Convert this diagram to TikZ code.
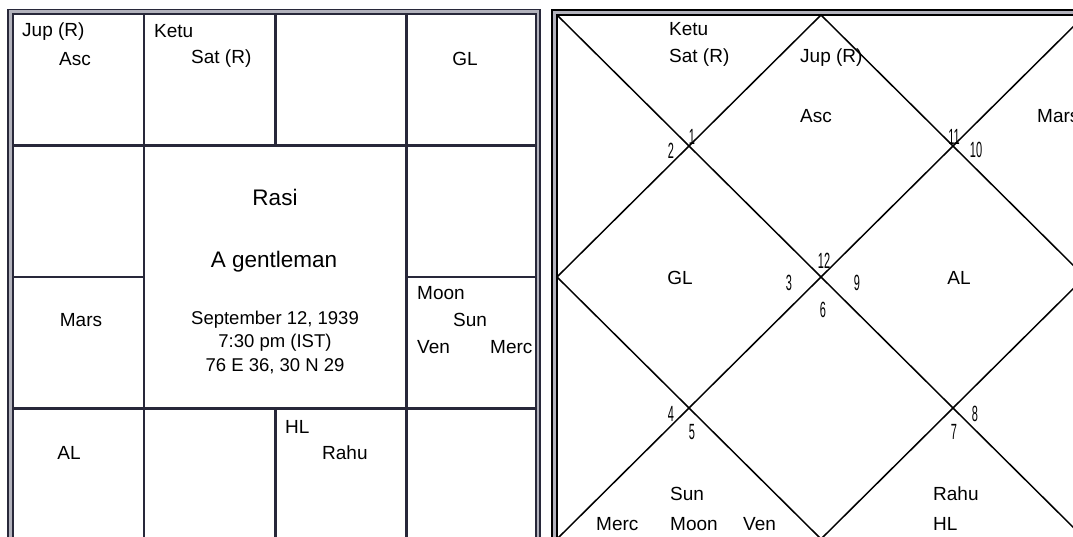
\documentclass[tikz,border=0pt]{standalone}
\usepackage{fontspec}
\setmainfont{Liberation Sans}
\definecolor{gridnavy}{RGB}{40,40,58}
\definecolor{gapgray}{RGB}{178,178,188}
\newcommand{\narrow}[1]{\scalebox{0.5}[1]{#1}}
\tikzset{
  pl/.style={inner sep=0pt, font=\fontsize{19}{22}\selectfont},
  plw/.style={pl, anchor=west},
  title/.style={inner sep=0pt, font=\fontsize{22.5}{25}\selectfont},
  housenum/.style={inner sep=0pt, font=\fontsize{22}{22}\selectfont},
  rasiline/.style={draw=gridnavy, line width=2.6pt},
  bhavaline/.style={draw=black, line width=1.5pt}
}

\begin{document}
\begin{tikzpicture}[x=1pt,y=-1pt]
\useasboundingbox (0,0) rectangle (1073,537);
\clip (0,0) rectangle (1073,537);

\draw[gapgray, line width=4pt] (10.5,11.75) rectangle (538,542);
\draw[gridnavy, line width=1.8pt] (8,9.5) rectangle (540,544);
\draw[gridnavy, line width=1.8pt] (13,14) rectangle (536,540);

\coordinate (h1w) at (13,145.5);
\coordinate (h1e) at (536,145.5);
\coordinate (h2w) at (13,277);
\coordinate (h2a) at (144,277);
\coordinate (h2b) at (406.5,277);
\coordinate (h2e) at (536,277);
\coordinate (h3w) at (13,408.5);
\coordinate (h3e) at (536,408.5);
\coordinate (v1n) at (144,14);
\coordinate (v1s) at (144,540);
\coordinate (v2n) at (275.5,14);
\coordinate (v2a) at (275.5,145.5);
\coordinate (v2b) at (275.5,408.5);
\coordinate (v2s) at (275.5,540);
\coordinate (v3n) at (406.5,14);
\coordinate (v3s) at (406.5,540);
\draw[rasiline] (h1w) -- (h1e) (h3w) -- (h3e) (h2w) -- (h2a) (h2b) -- (h2e)
  (v1n) -- (v1s) (v3n) -- (v3s) (v2n) -- (v2a) (v2b) -- (v2s);

\node[plw] (jupL) at (22,32) {Jup (R)};
\node[plw] (ascL) at (59,59) {Asc};
\node[plw] (ketuL) at (154,31) {Ketu};
\node[plw] (satL) at (191,59) {Sat (R)};
\node[pl] (glL) at (465,59) {GL};
\node[pl] (marsL) at (81,320) {Mars};
\node[title] (rasi) at (275,197) {Rasi};
\node[title] (gent) at (274,262) {A gentleman};
\node[pl, align=center, font=\fontsize{18.5}{23.5}\selectfont] (birth) at (275,342)
  {September 12, 1939\\7:30 pm (IST)\\76 E 36, 30 N 29};
\node[plw] (moonL) at (417,293) {Moon};
\node[plw] (sunL) at (453,320) {Sun};
\node[plw] (venL) at (417,347) {Ven};
\node[plw] (mercL) at (490,347) {Merc};
\node[pl] (alL) at (69,453) {AL};
\node[plw] (hlL) at (285,427) {HL};
\node[plw] (rahuL) at (322,453) {Rahu};

\coordinate (NW) at (557,15);
\coordinate (NE) at (1085,15);
\coordinate (SE) at (1085,539);
\coordinate (SW) at (557,539);
\coordinate (N) at (821,15);
\coordinate (E) at (1085,277);
\coordinate (S) at (821,539);
\coordinate (W) at (557,277);
\draw[gapgray, line width=3pt] (554.5,12.5) rectangle (1087.5,541.5);
\draw[black, line width=1.8pt] (552,10) rectangle (1090,544);
\draw[bhavaline] (NW) rectangle (SE);
\draw[bhavaline] (NW) -- (SE) (NE) -- (SW) (N) -- (E) -- (S) -- (W) -- cycle;

\foreach \p/\x/\y in {1/692/137, 2/671/151, 11/954/137, 10/976/150,
  12/824/261, 3/789/283, 9/857/283, 6/823/310,
  4/671/414, 5/692/432, 8/975/414, 7/954/432}
{\node[housenum] (house\p) at (\x,\y) {\narrow{\p}};}

\node[plw] (ketuR) at (669,29) {Ketu};
\node[plw] (satR) at (669,58) {Sat (R)};
\node[plw] (jupR) at (800,58) {Jup (R)};
\node[plw] (ascR) at (800,116) {Asc};
\node[plw] (marsR) at (1037,116) {Mars};
\node[pl] (glR) at (680,278) {GL};
\node[pl] (alR) at (959,278) {AL};
\node[plw] (sunR) at (670,494) {Sun};
\node[plw] (mercR) at (596,524) {Merc};
\node[plw] (moonR) at (670,524) {Moon};
\node[plw] (venR) at (743,524) {Ven};
\node[plw] (rahuR) at (933,494) {Rahu};
\node[plw] (hlR) at (933,524) {HL};
\end{tikzpicture}
\end{document}
